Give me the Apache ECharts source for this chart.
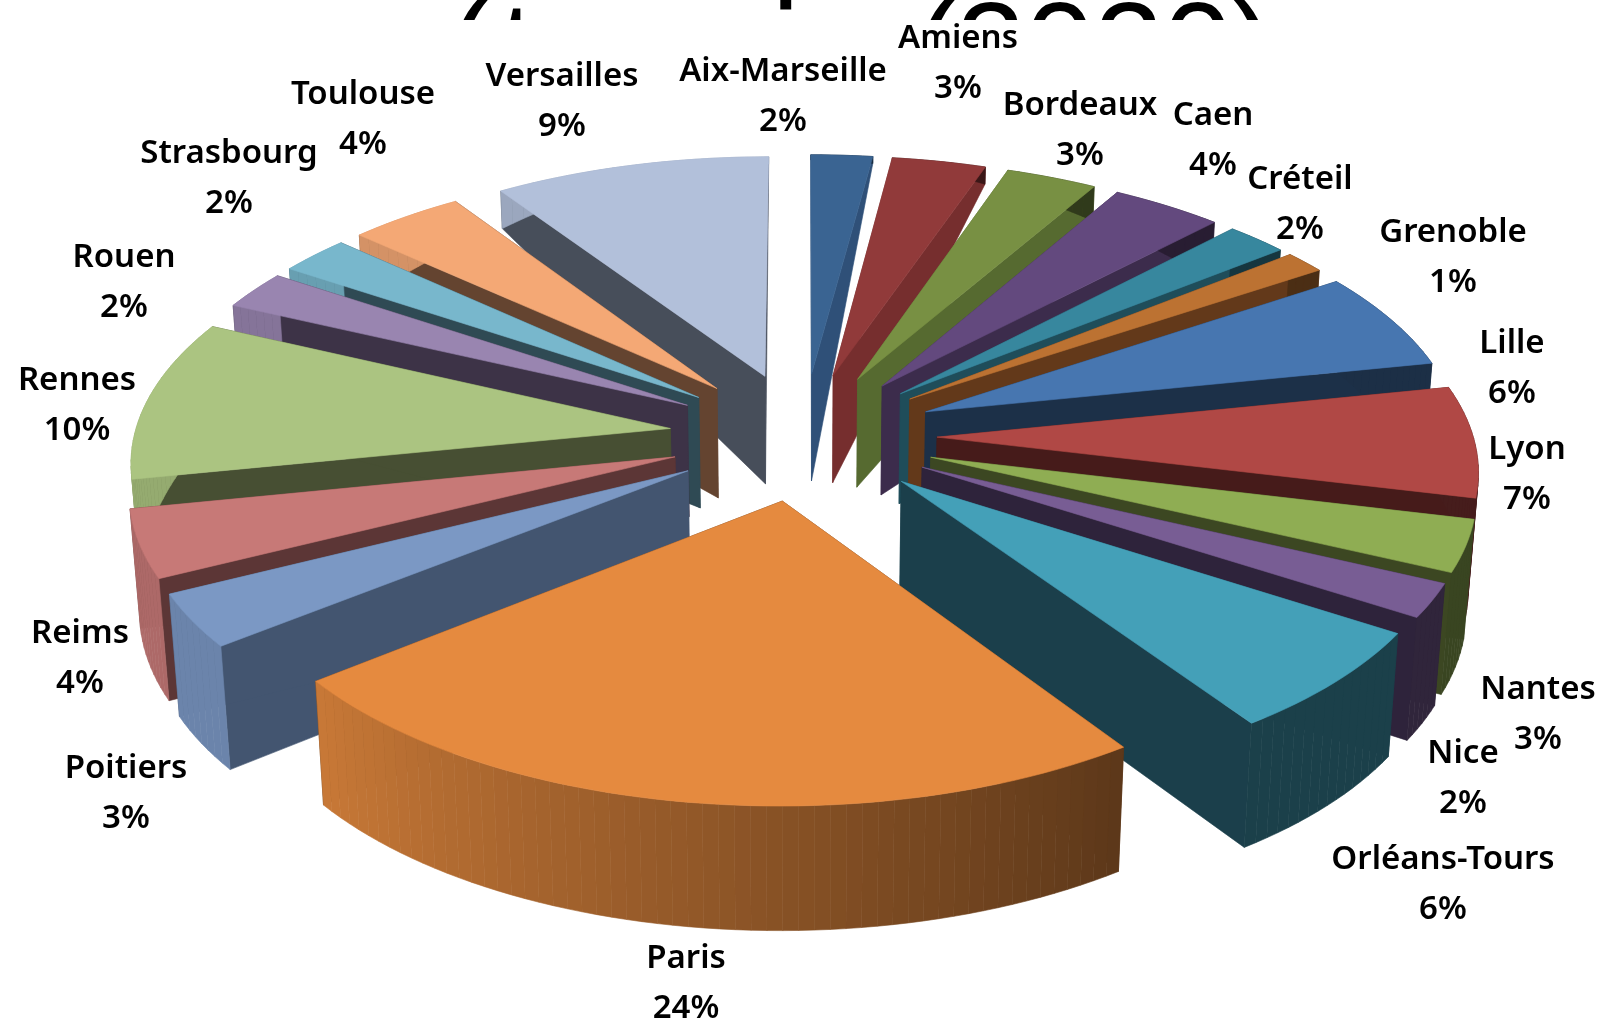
<!DOCTYPE html>
<html>
<head>
<meta charset="utf-8">
<title>Académies</title>
<style>
  html, body { margin: 0; padding: 0; background: #fff; }
  #main { width: 1605px; height: 1026px; }
</style>
<script src="https://cdn.jsdelivr.net/npm/echarts@6/dist/echarts.min.js"></script>
</head>
<body>
<div id="main"></div>
<script>
// data, clockwise from 12 o'clock
var academies = ['Aix-Marseille', 'Amiens', 'Bordeaux', 'Caen', 'Créteil', 'Grenoble', 'Lille', 'Lyon',
    'Nantes', 'Nice', 'Orléans-Tours', 'Paris', 'Poitiers', 'Reims', 'Rennes', 'Rouen', 'Strasbourg',
    'Toulouse', 'Versailles'];
var shares = [2.1, 3.2, 3.1, 3.8, 2.1, 1.4, 6.1, 6.9, 3.2, 2.1, 6.4, 23.9, 3.3, 4.2, 10.0, 2.4, 2.4, 3.9, 9.4];

// palette
var topColors = ['#3a6492', '#913a3a', '#789043', '#63497e', '#37879e', '#bc7232', '#4776b0', '#b04845',
    '#8fad53', '#785d94', '#44a0b8', '#e58a3f', '#7b98c4', '#c77977', '#abc481', '#9985b0', '#78b7cc',
    '#f4a875', '#b2c0da'];
var wallColors = ['#2f5078', '#762e2e', '#566a30', '#3c2c4c', '#1f4d5a', '#63391a', '#1c3048', '#461b1a',
    '#3c4722', '#2e233b', '#1b3f4b', '#5a3517', '#435570', '#5c3636', '#474f33', '#3d3347', '#2f4a54',
    '#644430', '#474e5a'];

// where each label sits on the page
var labelCentres = [[783, 97], [958, 64], [1080, 131], [1213, 141], [1300, 205], [1453, 258], [1512, 369],
    [1527, 475], [1538, 715], [1463, 779], [1443, 885], [686, 984], [126, 794], [80, 659], [77, 406],
    [124, 283], [229, 179], [363, 120], [562, 102]];

// what is left of the slide title, hidden by the chart below y=20
var titlePieces = [['(', 448], ['t', 500], ['i', 772], ['(2020)', 915]];

// view of the pie
var cx = 803, cy = 436, radX = 536, radY = 256, persp = 0.11, explode = 0.25;

var project = function (x, y) {
    var w = 1 - persp * y;
    return [cx + radX * x / w, cy + radY * y / w];
};

// the wall is short at the back of the pie and saturates towards the front
var dropPoint = function (p) {
    var h = 125 * (1 - Math.exp(-(p[1] - 150) / 115));
    return [p[0] + (cx - p[0]) * h * 0.00013, p[1] + h];
};

var shade = function (hex, f) {
    var n = parseInt(hex.slice(1), 16);
    var r = Math.round((n >> 16) * f), g = Math.round(((n >> 8) & 255) * f), b = Math.round((n & 255) * f);
    return 'rgb(' + r + ',' + g + ',' + b + ')';
};

var rimShade = function (deg) {
    return Math.min(0.87, Math.max(0.4, 0.4 + (deg - 145) * 0.0055));
};

var poly = function (pts, color) {
    return {
        type: 'polygon',
        shape: { points: pts },
        style: { fill: color, stroke: color, lineWidth: 0.6 }
    };
};

var total = shares.reduce(function (a, b) { return a + b; }, 0);
var sliceRows = [];
var cum = 0;
shares.forEach(function (v, i) {
    var start = cum / total * 360;
    cum += v;
    sliceRows.push([v, start, cum / total * 360, i]);
});

// painter's order: slices further from the viewer first
sliceRows.sort(function (a, b) {
    return -Math.cos((a[1] + a[2]) / 360 * Math.PI) + Math.cos((b[1] + b[2]) / 360 * Math.PI);
});

var renderSlice = function (params, api) {
    var start = api.value(1), end = api.value(2), i = api.value(3);
    var mid = (start + end) / 2 * Math.PI / 180;
    var ox = explode * Math.sin(mid), oy = -explode * Math.cos(mid);
    var apex = project(ox, oy);
    var rim = [], degs = [];
    var steps = Math.max(2, Math.ceil((end - start) / 1.5));
    for (var k = 0; k <= steps; k++) {
        var d = start + (end - start) * k / steps;
        var a = d * Math.PI / 180;
        rim.push(project(ox + Math.sin(a), oy - Math.cos(a)));
        degs.push(d);
    }
    var children = [];
    var apexLow = dropPoint(apex);
    children.push(poly([apex, rim[0], dropPoint(rim[0]), apexLow], wallColors[i]));
    children.push(poly([apex, rim[steps], dropPoint(rim[steps]), apexLow], wallColors[i]));
    for (k = 0; k < steps; k++) {
        children.push(poly([rim[k], rim[k + 1], dropPoint(rim[k + 1]), dropPoint(rim[k])],
            shade(topColors[i], rimShade((degs[k] + degs[k + 1]) / 2))));
    }
    children.push(poly([apex].concat(rim), topColors[i]));
    return { type: 'group', children: children };
};

var renderLabel = function (params, api) {
    var i = api.value(0);
    return {
        type: 'text',
        style: {
            text: academies[i] + '\n' + Math.round(shares[i]) + '%',
            x: labelCentres[i][0],
            y: labelCentres[i][1],
            align: 'center',
            verticalAlign: 'middle',
            fill: '#000',
            font: '600 33px "Noto Sans"',
            lineHeight: 50
        }
    };
};

var titleElements = titlePieces.map(function (piece) {
    return {
        type: 'text',
        z: 0,
        style: { text: piece[0], x: piece[1], y: -7, fill: '#000', font: '124px "Liberation Sans"' }
    };
});
titleElements.push({
    type: 'rect',
    z: 1,
    shape: { x: 0, y: 20, width: 1605, height: 1006 },
    style: { fill: '#fff' }
});

var myChart = echarts.init(document.getElementById('main'));

var option = {
    animation: false,
    backgroundColor: '#fff',
    graphic: { elements: titleElements },
    series: [
        {
            type: 'custom',
            coordinateSystem: 'none',
            silent: true,
            z: 3,
            data: sliceRows,
            renderItem: renderSlice
        },
        {
            type: 'custom',
            coordinateSystem: 'none',
            silent: true,
            z: 4,
            data: academies.map(function (name, i) { return [i]; }),
            renderItem: renderLabel
        }
    ]
};

myChart.setOption(option);
</script>
</body>
</html>
